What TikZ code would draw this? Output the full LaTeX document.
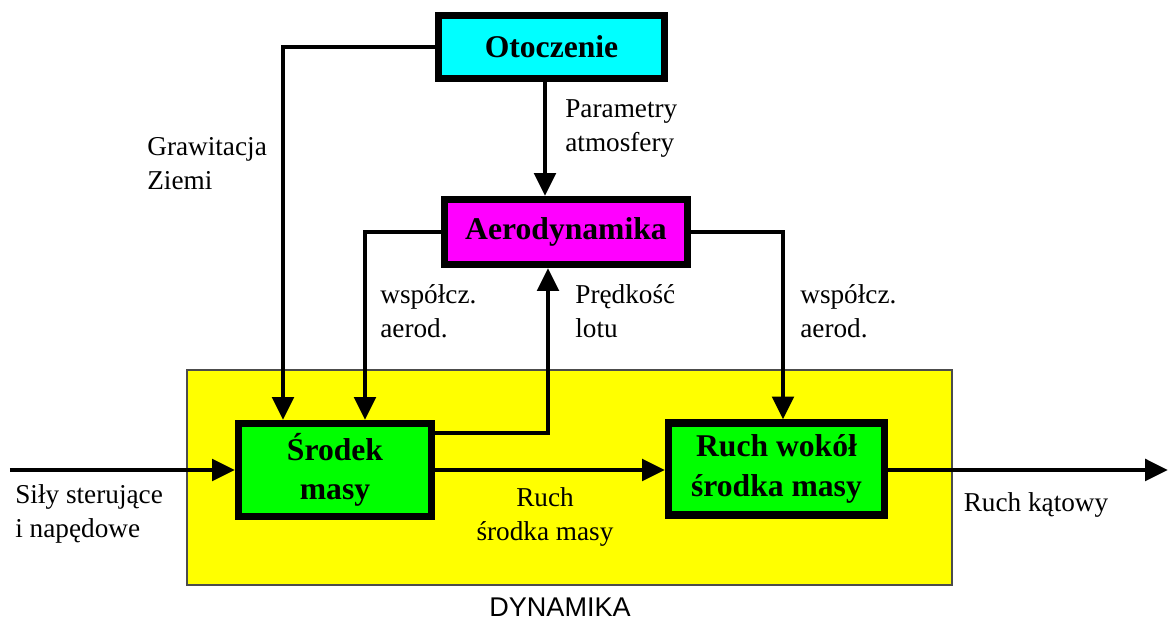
\documentclass[tikz,border=0pt]{standalone}
\usepackage{fontspec}
\setmainfont{Liberation Serif}
\newfontfamily\dynfont{Liberation Sans}
\usepackage{tikz}
\usetikzlibrary{arrows.meta,positioning}
\definecolor{otoc}{HTML}{00FFFF}
\definecolor{aerc}{HTML}{FF00FF}
\definecolor{blkc}{HTML}{00FF00}
\definecolor{dync}{HTML}{FFFF00}
\newcommand{\lblsize}{\fontsize{15.5}{19.5}\selectfont}
\newcommand{\blksize}{\fontsize{18}{22.5}\selectfont\bfseries}

\begin{document}
\begin{tikzpicture}[font=\lblsize,>={Triangle[length=13pt,width=12pt]},
  blok/.style={draw,line width=4pt,font=\blksize,align=center},
  flow/.style={->,line width=2.8pt},
  lbl/.style={inner sep=0pt,align=left,anchor=north west}]
  \useasboundingbox (0,0) rectangle (23.4,12.5);
  % ---- DYNAMIKA frame ----
  \draw[fill=dync,draw=black!70,line width=0.6pt] (3.74,0.80) rectangle (19.04,5.10);
  \node[font=\dynfont\fontsize{15.4}{18}\selectfont] (dyn) at (11.2,0.36) {DYNAMIKA};
  % ---- blocks ----
  \node[blok,fill=otoc,minimum width=4.52cm,minimum height=1.26cm] (oto) at (11.03,11.56) {Otoczenie};
  \node[blok,fill=aerc,minimum width=4.86cm,minimum height=1.30cm] (aero) at (11.32,7.86) {Aerodynamika};
  \node[blok,fill=blkc,minimum width=3.86cm,minimum height=1.86cm] (sm) at (6.70,3.10) {Środek\\masy};
  \node[blok,fill=blkc,minimum width=4.32cm,minimum height=1.84cm] (ruch) at (15.53,3.12) {Ruch wokół\\środka masy};
  % ---- connectors ----
  \coordinate (wej) at (0.2,3.10);
  \coordinate (wyj) at (23.36,3.10);
  \draw[flow] (wej) -- (sm.west);
  \draw[flow] (sm.east) -- (sm.east -| ruch.west);
  \draw[flow] (ruch.east |- wyj) -- (wyj);
  \draw[flow] (oto.west) -| ([xshift=-1.04cm]sm.north);
  \draw[flow] ([xshift=-0.13cm]oto.south) -- ([xshift=-0.13cm]oto.south |- aero.north);
  \draw[flow] (aero.west) -| ([xshift=0.60cm]sm.north);
  \draw[flow] ([yshift=0.74cm]sm.east) -| ([xshift=-0.36cm]aero.south);
  \draw[flow] (aero.east) -| ([xshift=0.13cm]ruch.north);
  % ---- labels ----
  \node[lbl] (grav) at (2.94,9.76) {Grawitacja\\Ziemi};
  \node[lbl] (atm) at (11.30,10.52) {Parametry\\atmosfery};
  \node[lbl] (wsp1) at (7.60,6.82) {współcz.\\aerod.};
  \node[lbl] (pred) at (11.50,6.82) {Prędkość\\lotu};
  \node[lbl] (wsp2) at (16.00,6.82) {współcz.\\aerod.};
  \node[align=center] (rsm) at (10.90,2.16) {Ruch\\środka masy};
  \node[align=left,anchor=west,inner sep=0pt] (sily) at (0.30,2.22) {Siły sterujące\\i napędowe};
  \node (kat) at (20.72,2.40) {Ruch kątowy};
\end{tikzpicture}
\end{document}
